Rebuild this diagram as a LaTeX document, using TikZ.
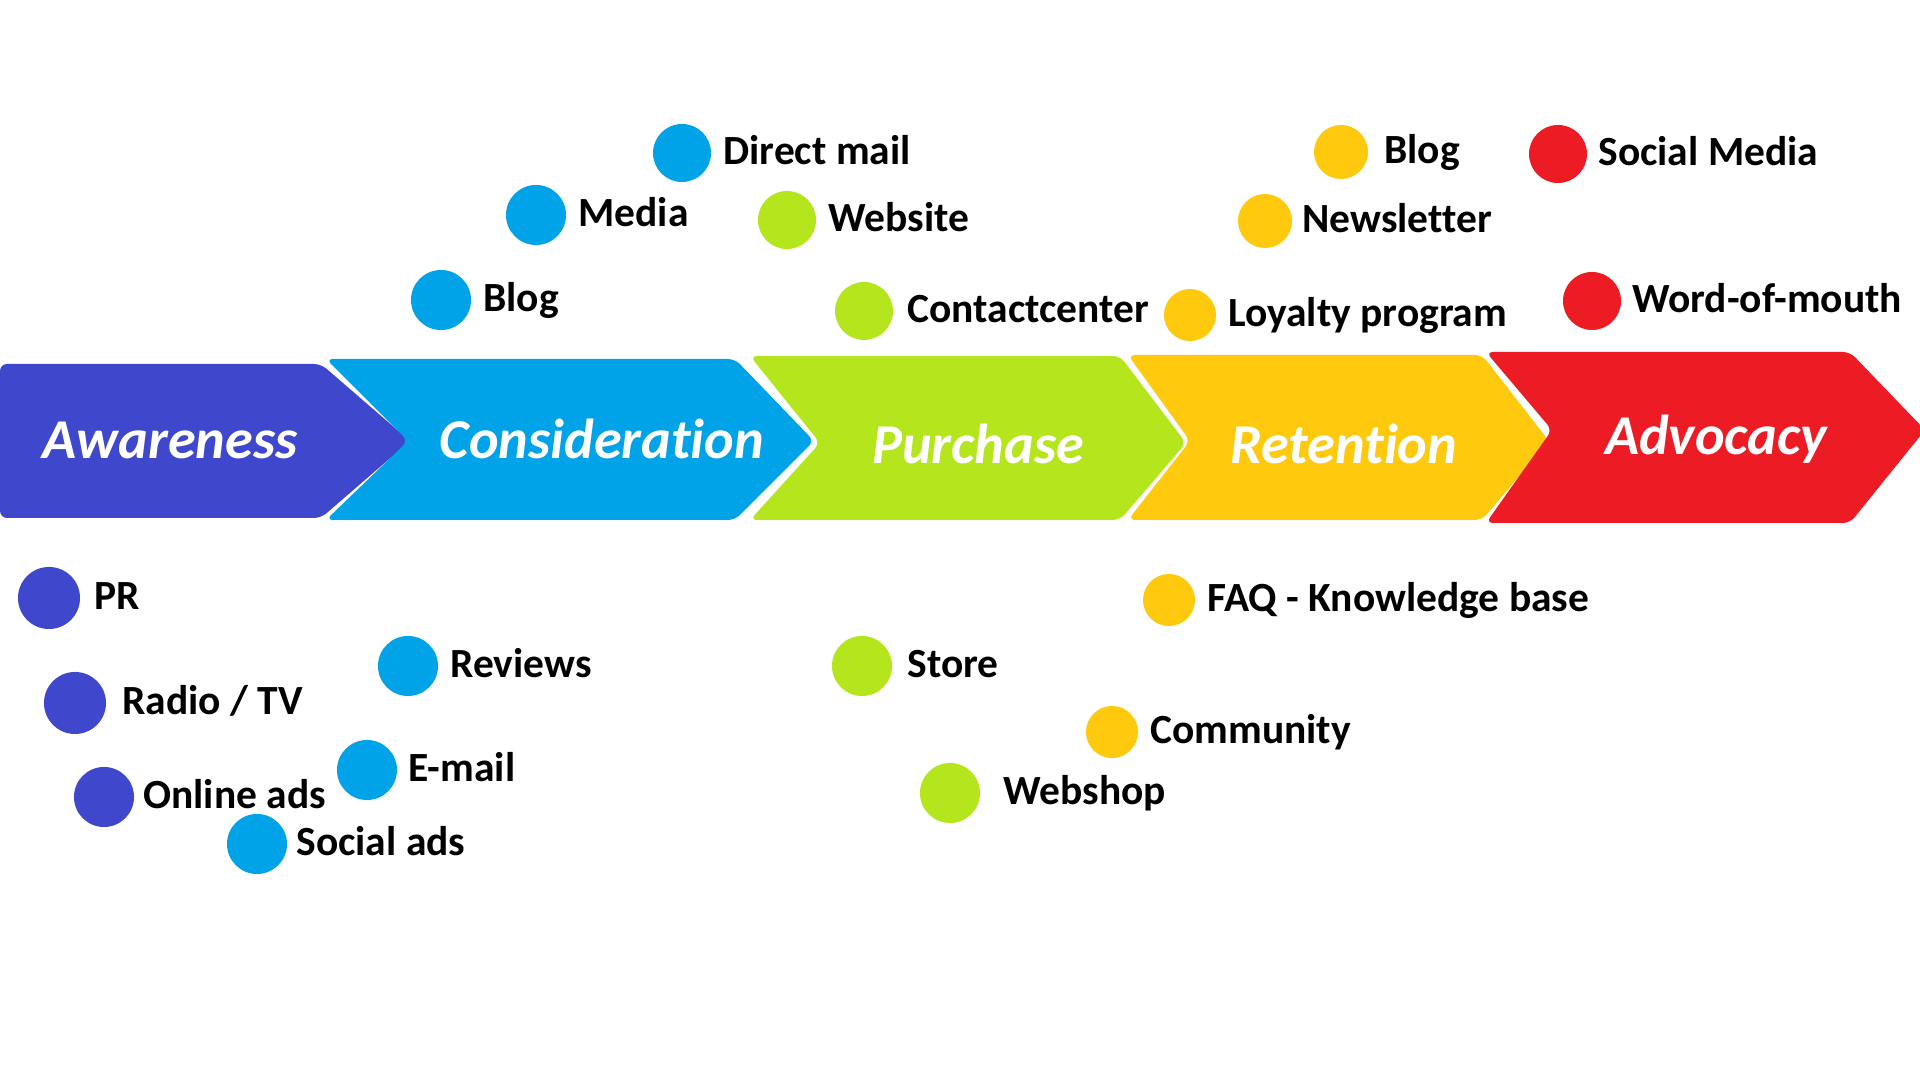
\documentclass[tikz,border=0pt]{standalone}
\usepackage{fontspec}
\setmainfont[Ligatures=NoCommon]{Carlito}
\usepackage{tikz}
\usetikzlibrary{positioning}
\definecolor{StageIndigo}{HTML}{3F48CC}
\definecolor{StageBlue}{HTML}{00A2E8}
\definecolor{StageLime}{HTML}{B5E61D}
\definecolor{StageGold}{HTML}{FFC90E}
\definecolor{StageRed}{HTML}{ED1C24}
\tikzset{
	dot/.style={circle, inner sep=0pt, draw=none},
	chanlabel/.style={inner sep=0pt, text height=0.64em, text depth=0pt, text=black, font=\bfseries\fontsize{11.8}{14}\selectfont},
	stagelabel/.style={inner sep=0pt, text height=0.64em, text depth=0pt, text=white, font=\bfseries\itshape\fontsize{16}{19}\selectfont},
}
% color, left x, notch x, shoulder x, tip x, top y, bottom y, tip y
\newcommand{\stagearrow}[8]{%
	\fill[#1, rounded corners=2pt] (#2,#6) -- (#4,#6) -- (#5,#8) -- (#4,#7) -- (#2,#7) -- (#3,#8) -- cycle;
}
% name, x, y, color, dot size, text, gap
\newcommand{\channel}[7]{%
	\node[dot, fill=#4, minimum size=#5] (#1) at (#2,#3) {};
	\node[chanlabel, right=#7 of #1] (#1-label) {#6};
}

\begin{document}
\begin{tikzpicture}[x=0.01cm,y=-0.01cm]
	\fill[white] (0,0) rectangle (1920,1080);
	\useasboundingbox (0,0) rectangle (1920,1080);
	\clip (0,0) rectangle (1920,1080);

	% Stage chevrons
	\stagearrow{StageIndigo}{0}{0}{321}{410}{364}{518}{441}
	\stagearrow{StageBlue}{326}{408}{735}{814}{359}{520}{441}
	\stagearrow{StageLime}{750}{820}{1120}{1186}{356}{520}{443}
	\stagearrow{StageGold}{1128}{1190}{1482}{1549}{355}{520}{441}
	\stagearrow{StageRed}{1486}{1552}{1850}{1925}{352}{523}{430}

	\node[stagelabel] (awareness) at (170,447) {Awareness};
	\node[stagelabel] (consideration) at (602,447) {Consideration};
	\node[stagelabel] (purchase) at (978,452) {Purchase};
	\node[stagelabel] (retention) at (1344,452) {Retention};
	\node[stagelabel] (advocacy) at (1716,443) {Advocacy};

	% Channels above the stages
	\channel{blogcons}{441}{300}{StageBlue}{0.6cm}{Blog}{0.11cm}
	\channel{media}{536}{215}{StageBlue}{0.6cm}{Media}{0.11cm}
	\channel{directmail}{682}{153}{StageBlue}{0.58cm}{Direct mail}{0.11cm}
	\channel{website}{787}{220}{StageLime}{0.58cm}{Website}{0.11cm}
	\channel{contactcenter}{864}{311}{StageLime}{0.58cm}{Contactcenter}{0.13cm}
	\channel{loyalty}{1190}{315}{StageGold}{0.52cm}{Loyalty program}{0.11cm}
	\channel{newsletter}{1265}{221}{StageGold}{0.54cm}{Newsletter}{0.09cm}
	\channel{blogret}{1341}{152}{StageGold}{0.54cm}{Blog}{0.15cm}
	\channel{socialmedia}{1558}{154}{StageRed}{0.58cm}{Social Media}{0.1cm}
	\channel{wordofmouth}{1592}{301}{StageRed}{0.58cm}{Word-of-mouth}{0.1cm}

	% Channels below the stages
	\channel{pr}{49}{598}{StageIndigo}{0.62cm}{PR}{0.13cm}
	\channel{radiotv}{75}{703}{StageIndigo}{0.62cm}{Radio / TV}{0.15cm}
	\channel{onlineads}{104}{797}{StageIndigo}{0.6cm}{Online ads}{0.08cm}
	\channel{reviews}{408}{666}{StageBlue}{0.6cm}{Reviews}{0.11cm}
	\channel{email}{367}{770}{StageBlue}{0.6cm}{E-mail}{0.1cm}
	\channel{socialads}{257}{844}{StageBlue}{0.6cm}{Social ads}{0.08cm}
	\channel{store}{862}{666}{StageLime}{0.6cm}{Store}{0.14cm}
	\channel{webshop}{950}{793}{StageLime}{0.6cm}{Webshop}{0.22cm}
	\channel{faq}{1169}{600}{StageGold}{0.52cm}{FAQ - Knowledge base}{0.11cm}
	\channel{community}{1112}{732}{StageGold}{0.52cm}{Community}{0.11cm}
\end{tikzpicture}
\end{document}
